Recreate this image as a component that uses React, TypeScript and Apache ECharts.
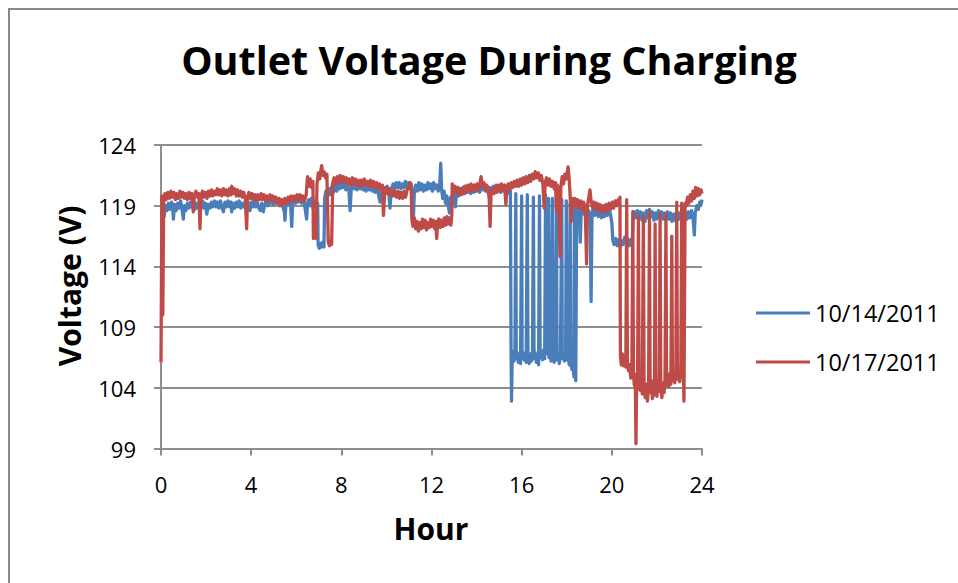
import React, { useEffect, useRef } from "react";
import * as echarts from "echarts";

const TITLE = "Outlet Voltage During Charging";
const X_NAME = "Hour";
const Y_NAME = "Voltage (V)";
const SERIES_NAMES = ["10/14/2011", "10/17/2011"];
const SERIES_COLORS = ["#4A7EBB", "#BE4B48"];
const X_TICKS = [0, 4, 8, 12, 16, 20, 24];
const Y_TICKS = [99, 104, 109, 114, 119, 124];

// 10/14/2011 : [hour, volts]
const blue: [number, number][] = [
  [0.1, 119.3], [0.14, 118.1], [0.2, 119.0], [0.26, 118.6], [0.33, 119.2], [0.4, 118.7], [0.47, 119.3], [0.52, 118.8], [0.55, 117.9], [0.6, 119.1],
  [0.67, 118.6], [0.74, 119.2], [0.8, 118.8], [0.87, 119.4], [0.93, 118.7], [0.99, 117.9], [1.04, 119.0], [1.1, 118.6], [1.17, 119.2], [1.24, 118.8],
  [1.3, 119.3], [1.37, 118.9], [1.44, 119.4], [1.5, 118.7], [1.57, 119.2], [1.64, 118.8], [1.7, 119.3], [1.77, 118.9], [1.84, 119.4], [1.9, 118.8],
  [1.97, 119.2], [2.03, 118.3], [2.1, 119.1], [2.17, 118.8], [2.24, 119.3], [2.3, 118.9], [2.37, 119.4], [2.44, 118.9], [2.5, 119.3], [2.57, 118.8],
  [2.64, 119.4], [2.7, 118.9], [2.77, 118.5], [2.84, 119.3], [2.9, 118.9], [2.97, 119.4], [3.04, 118.9], [3.1, 119.3], [3.14, 118.5], [3.2, 119.2],
  [3.27, 118.8], [3.34, 119.3], [3.4, 118.9], [3.47, 119.4], [3.54, 118.8], [3.6, 119.2], [3.67, 118.9], [3.74, 119.3], [3.8, 118.9], [3.87, 119.2],
  [3.95, 118.6], [4.0, 119.3], [4.07, 118.9], [4.14, 119.4], [4.2, 118.9], [4.27, 119.3], [4.34, 118.8], [4.4, 118.6], [4.47, 119.2], [4.54, 118.5],
  [4.6, 119.1], [4.67, 119.4], [4.74, 119.0], [4.8, 119.6], [4.87, 119.2], [4.94, 119.5], [5.0, 119.1], [5.07, 119.6], [5.14, 119.2], [5.2, 119.5],
  [5.27, 119.0], [5.34, 119.4], [5.4, 119.0], [5.47, 118.5], [5.5, 117.8], [5.54, 119.1], [5.6, 119.5], [5.67, 119.1], [5.74, 119.4], [5.8, 117.3],
  [5.84, 119.2], [5.9, 119.6], [5.97, 119.2], [6.04, 119.7], [6.1, 119.3], [6.17, 119.6], [6.24, 119.2], [6.3, 119.5], [6.37, 119.1], [6.42, 118.4],
  [6.46, 117.9], [6.5, 119.2], [6.56, 119.5], [6.62, 119.0], [6.68, 119.6], [6.75, 118.8], [6.82, 119.4], [6.9, 118.9], [6.95, 119.2], [6.97, 115.8],
  [7.02, 115.5], [7.08, 115.9], [7.13, 115.6], [7.18, 116.0], [7.23, 115.6], [7.26, 119.6], [7.32, 120.2], [7.38, 119.8], [7.45, 120.4], [7.52, 119.9],
  [7.58, 120.6], [7.65, 120.1], [7.72, 120.8], [7.8, 120.2], [7.87, 120.9], [7.94, 120.4], [8.0, 121.0], [8.07, 120.5], [8.14, 120.9], [8.2, 120.3],
  [8.27, 120.8], [8.34, 120.2], [8.39, 118.6], [8.44, 120.4], [8.5, 120.9], [8.57, 120.4], [8.64, 120.8], [8.7, 120.3], [8.77, 120.9], [8.84, 120.4],
  [8.9, 120.8], [8.97, 120.3], [9.04, 120.7], [9.1, 120.2], [9.17, 120.8], [9.24, 120.3], [9.3, 120.7], [9.37, 120.2], [9.44, 120.6], [9.5, 120.1],
  [9.57, 120.6], [9.64, 120.0], [9.72, 119.3], [9.78, 120.4], [9.84, 120.0], [9.9, 120.5], [9.97, 120.1], [10.04, 120.6], [10.1, 120.2], [10.16, 118.8],
  [10.22, 120.4], [10.3, 120.8], [10.37, 120.4], [10.44, 120.9], [10.5, 120.5], [10.57, 120.9], [10.64, 120.4], [10.7, 120.8], [10.77, 120.5], [10.84, 121.0],
  [10.9, 120.5], [10.97, 120.9], [11.04, 120.4], [11.1, 120.8], [11.16, 119.5], [11.2, 118.1], [11.24, 120.2], [11.3, 120.7], [11.37, 120.2], [11.44, 120.9],
  [11.5, 120.3], [11.57, 120.8], [11.64, 120.2], [11.7, 120.7], [11.77, 120.3], [11.84, 120.9], [11.9, 120.4], [11.97, 120.8], [12.04, 120.2], [12.1, 120.9],
  [12.17, 120.4], [12.24, 120.7], [12.3, 120.2], [12.36, 120.6], [12.41, 122.5], [12.45, 120.3], [12.5, 119.6], [12.56, 120.2], [12.62, 119.2], [12.68, 119.8],
  [12.74, 119.0], [12.8, 118.4], [12.85, 119.7], [12.9, 119.1], [12.95, 120.2], [13.0, 120.1], [13.06, 118.9], [13.12, 120.3], [13.2, 119.8], [13.26, 120.4],
  [13.33, 119.9], [13.4, 120.5], [13.47, 120.0], [13.54, 120.6], [13.6, 120.1], [13.67, 120.5], [13.74, 120.0], [13.8, 120.6], [13.87, 120.1], [13.94, 120.7],
  [14.0, 120.2], [14.07, 120.6], [14.14, 120.1], [14.2, 120.8], [14.27, 120.3], [14.34, 120.7], [14.4, 120.2], [14.47, 120.6], [14.54, 120.0], [14.6, 120.5],
  [14.67, 120.0], [14.74, 120.6], [14.8, 120.1], [14.87, 120.7], [14.94, 120.2], [15.0, 120.6], [15.07, 120.1], [15.14, 120.7], [15.2, 120.2], [15.27, 120.6],
  [15.34, 120.1], [15.4, 120.5], [15.46, 120.0], [15.5, 120.2], [15.53, 107.0], [15.55, 102.9], [15.58, 106.5], [15.62, 107.0], [15.66, 106.2], [15.7, 106.8],
  [15.74, 120.0], [15.76, 106.4], [15.8, 106.9], [15.85, 106.1], [15.9, 106.7], [15.95, 106.0], [16.0, 119.8], [16.02, 106.5], [16.06, 106.9], [16.1, 106.3],
  [16.15, 106.8], [16.2, 106.1], [16.25, 119.9], [16.28, 106.6], [16.33, 106.0], [16.38, 106.8], [16.43, 106.2], [16.48, 106.7], [16.52, 119.7], [16.55, 106.4],
  [16.6, 106.9], [16.65, 106.1], [16.7, 106.6], [16.75, 105.9], [16.79, 119.8], [16.82, 106.5], [16.87, 107.0], [16.92, 106.3], [16.97, 107.1], [17.02, 106.4],
  [17.06, 119.9], [17.09, 106.8], [17.12, 114.0], [17.14, 107.2], [17.17, 111.5], [17.19, 119.6], [17.21, 106.5], [17.26, 106.9], [17.3, 106.2], [17.36, 119.6],
  [17.39, 106.7], [17.44, 106.1], [17.49, 106.8], [17.54, 119.5], [17.57, 106.3], [17.62, 106.8], [17.67, 106.0], [17.72, 106.7], [17.78, 119.5], [17.8, 106.4],
  [17.85, 106.9], [17.9, 106.2], [17.95, 106.6], [17.98, 119.4], [18.01, 106.3], [18.06, 106.8], [18.11, 105.9], [18.15, 119.2], [18.18, 106.1], [18.23, 105.5],
  [18.28, 105.9], [18.32, 104.9], [18.34, 119.0], [18.37, 105.2], [18.4, 104.6], [18.44, 118.9], [18.5, 118.2], [18.56, 118.7], [18.6, 116.0], [18.64, 118.4],
  [18.7, 118.9], [18.77, 118.3], [18.84, 118.8], [18.9, 118.1], [18.97, 118.6], [19.04, 118.2], [19.08, 111.1], [19.12, 118.3], [19.18, 118.8], [19.25, 118.2],
  [19.32, 118.7], [19.4, 118.1], [19.47, 118.6], [19.54, 118.0], [19.6, 118.5], [19.67, 118.1], [19.74, 118.6], [19.8, 118.2], [19.87, 118.7], [19.94, 118.3],
  [20.0, 117.6], [20.04, 116.2], [20.1, 115.8], [20.17, 116.3], [20.24, 115.7], [20.3, 116.2], [20.37, 115.6], [20.44, 116.1], [20.5, 115.8], [20.57, 116.4],
  [20.64, 115.9], [20.7, 116.3], [20.77, 115.7], [20.84, 116.2], [20.9, 115.8], [20.95, 117.9], [21.0, 118.5], [21.06, 118.0], [21.13, 118.6], [21.2, 117.9],
  [21.27, 118.5], [21.34, 117.8], [21.4, 118.4], [21.47, 117.7], [21.54, 118.6], [21.6, 118.0], [21.67, 118.7], [21.74, 118.1], [21.8, 118.5], [21.87, 117.8],
  [21.94, 118.4], [22.0, 117.9], [22.07, 118.6], [22.14, 118.0], [22.2, 118.5], [22.27, 117.9], [22.34, 118.4], [22.4, 117.8], [22.47, 118.5], [22.54, 117.9],
  [22.6, 118.4], [22.67, 117.7], [22.74, 118.3], [22.8, 117.8], [22.87, 118.5], [22.94, 117.9], [23.0, 118.4], [23.07, 117.8], [23.14, 118.3], [23.2, 117.7],
  [23.27, 118.4], [23.34, 117.9], [23.4, 118.5], [23.47, 118.0], [23.54, 118.6], [23.6, 118.1], [23.66, 116.6], [23.7, 118.4], [23.77, 119.0], [23.84, 118.7],
  [23.9, 119.3], [23.96, 119.1], [24.0, 119.5],
];

// 10/17/2011 : [hour, volts]
const red: [number, number][] = [
  [0.0, 106.1], [0.04, 119.8], [0.08, 110.0], [0.12, 119.6], [0.17, 120.0], [0.23, 119.5], [0.3, 120.1], [0.37, 119.6], [0.44, 120.2], [0.5, 119.7],
  [0.57, 120.1], [0.64, 119.5], [0.7, 120.0], [0.77, 119.6], [0.84, 120.2], [0.9, 119.7], [0.97, 120.1], [1.04, 119.6], [1.1, 120.0], [1.17, 119.5],
  [1.24, 120.1], [1.3, 119.6], [1.37, 120.0], [1.43, 118.5], [1.48, 119.8], [1.55, 120.2], [1.62, 119.7], [1.68, 120.0], [1.73, 117.1], [1.77, 119.7],
  [1.84, 120.2], [1.9, 119.7], [1.97, 120.1], [2.04, 119.6], [2.1, 120.2], [2.17, 119.8], [2.24, 120.3], [2.3, 119.8], [2.37, 120.2], [2.44, 119.9],
  [2.5, 120.4], [2.57, 119.9], [2.64, 120.3], [2.7, 119.8], [2.77, 120.4], [2.84, 119.9], [2.9, 120.3], [2.97, 119.8], [3.04, 120.4], [3.1, 119.9],
  [3.14, 120.6], [3.2, 120.0], [3.27, 120.4], [3.34, 119.8], [3.4, 120.3], [3.47, 119.8], [3.54, 120.2], [3.6, 119.7], [3.67, 120.1], [3.74, 119.6],
  [3.8, 117.1], [3.84, 119.7], [3.9, 120.1], [3.97, 119.6], [4.04, 120.0], [4.1, 119.5], [4.17, 119.9], [4.24, 119.4], [4.3, 119.9], [4.37, 119.5],
  [4.44, 120.0], [4.5, 119.5], [4.57, 119.9], [4.64, 119.4], [4.7, 119.8], [4.77, 119.4], [4.84, 119.9], [4.9, 119.5], [4.97, 119.8], [5.04, 119.3],
  [5.1, 119.7], [5.17, 119.2], [5.24, 119.6], [5.3, 119.0], [5.37, 119.5], [5.44, 119.1], [5.5, 119.6], [5.57, 119.2], [5.64, 119.7], [5.7, 119.3],
  [5.77, 119.8], [5.84, 119.4], [5.9, 119.8], [5.97, 119.4], [6.04, 119.9], [6.1, 119.5], [6.17, 119.9], [6.24, 119.4], [6.3, 119.8], [6.37, 119.4],
  [6.44, 119.9], [6.5, 121.4], [6.56, 120.6], [6.62, 121.2], [6.68, 120.5], [6.74, 121.0], [6.76, 116.3], [6.82, 116.6], [6.88, 116.3], [6.92, 120.8],
  [6.98, 121.7], [7.04, 121.2], [7.09, 121.9], [7.13, 122.3], [7.18, 121.5], [7.24, 121.8], [7.3, 121.3], [7.36, 121.6], [7.42, 116.0], [7.47, 115.7],
  [7.52, 116.1], [7.57, 115.8], [7.62, 120.9], [7.68, 121.3], [7.75, 120.8], [7.82, 121.4], [7.88, 120.9], [7.95, 121.5], [8.02, 121.0], [8.09, 121.4],
  [8.16, 120.9], [8.22, 121.3], [8.29, 120.8], [8.36, 121.2], [8.42, 120.7], [8.49, 121.3], [8.56, 120.8], [8.62, 121.2], [8.69, 120.7], [8.76, 121.1],
  [8.82, 120.6], [8.89, 121.1], [8.96, 120.7], [9.02, 121.2], [9.09, 120.7], [9.16, 121.0], [9.22, 120.6], [9.29, 121.1], [9.36, 120.6], [9.42, 121.0],
  [9.49, 120.5], [9.56, 120.9], [9.62, 120.4], [9.69, 120.8], [9.76, 120.3], [9.82, 120.7], [9.87, 118.2], [9.92, 120.1], [9.98, 120.5], [10.05, 120.0],
  [10.12, 120.4], [10.18, 119.8], [10.25, 120.3], [10.32, 119.8], [10.38, 120.2], [10.45, 119.7], [10.52, 120.2], [10.58, 119.6], [10.65, 120.1], [10.72, 119.6],
  [10.78, 120.2], [10.85, 119.7], [10.92, 120.3], [10.98, 120.6], [11.05, 120.9], [11.1, 120.4], [11.13, 117.8], [11.18, 117.3], [11.24, 118.0], [11.3, 117.1],
  [11.36, 117.7], [11.42, 116.9], [11.48, 117.6], [11.54, 117.1], [11.6, 117.9], [11.66, 117.2], [11.72, 117.8], [11.78, 117.0], [11.84, 117.6], [11.9, 117.2],
  [11.96, 117.9], [12.02, 117.3], [12.08, 117.8], [12.14, 117.1], [12.2, 117.7], [12.23, 116.3], [12.27, 117.5], [12.33, 117.9], [12.39, 117.2], [12.45, 117.8],
  [12.51, 117.3], [12.57, 118.0], [12.63, 117.4], [12.69, 118.1], [12.75, 117.5], [12.81, 118.0], [12.86, 117.4], [12.9, 118.2], [12.92, 120.8], [12.98, 120.2],
  [13.05, 120.6], [13.12, 120.0], [13.19, 120.5], [13.26, 119.9], [13.33, 120.4], [13.4, 120.0], [13.47, 120.6], [13.54, 120.1], [13.61, 120.7], [13.68, 120.2],
  [13.75, 120.8], [13.82, 120.3], [13.89, 120.7], [13.96, 120.2], [14.03, 120.8], [14.1, 120.4], [14.16, 121.0], [14.2, 121.4], [14.25, 120.6], [14.32, 120.9],
  [14.38, 120.3], [14.45, 120.7], [14.52, 120.1], [14.56, 119.6], [14.6, 117.3], [14.64, 119.8], [14.7, 120.4], [14.77, 120.0], [14.84, 120.6], [14.9, 120.1],
  [14.97, 120.7], [15.04, 120.2], [15.1, 120.8], [15.17, 120.3], [15.24, 120.7], [15.3, 119.1], [15.34, 120.4], [15.4, 120.8], [15.47, 120.3], [15.54, 120.9],
  [15.6, 120.5], [15.67, 121.0], [15.74, 120.6], [15.8, 121.1], [15.87, 120.6], [15.94, 121.2], [16.0, 120.7], [16.07, 121.3], [16.14, 120.8], [16.2, 121.4],
  [16.27, 120.9], [16.34, 121.5], [16.4, 121.0], [16.47, 121.6], [16.54, 121.2], [16.6, 121.8], [16.67, 121.3], [16.74, 121.7], [16.8, 121.1], [16.87, 121.5],
  [16.94, 120.8], [17.0, 118.8], [17.04, 120.9], [17.1, 121.3], [17.17, 120.7], [17.24, 121.2], [17.3, 120.6], [17.37, 121.0], [17.44, 120.4], [17.5, 120.9],
  [17.54, 118.6], [17.58, 120.7], [17.64, 120.2], [17.7, 114.8], [17.74, 120.6], [17.8, 121.4], [17.86, 120.8], [17.92, 121.6], [17.98, 121.2], [18.03, 121.8],
  [18.06, 122.2], [18.1, 121.4], [18.14, 120.2], [18.2, 117.7], [18.24, 119.6], [18.3, 119.0], [18.36, 119.6], [18.42, 118.9], [18.48, 119.5], [18.55, 118.8],
  [18.62, 119.4], [18.68, 118.7], [18.75, 119.3], [18.82, 118.8], [18.88, 114.2], [18.92, 119.0], [18.97, 119.6], [19.03, 120.3], [19.08, 119.4], [19.15, 118.8],
  [19.22, 119.3], [19.28, 118.7], [19.35, 119.2], [19.42, 118.6], [19.48, 119.1], [19.55, 118.5], [19.62, 119.0], [19.68, 118.5], [19.75, 119.1], [19.82, 118.6],
  [19.88, 119.2], [19.95, 118.7], [20.02, 119.3], [20.08, 118.8], [20.15, 119.4], [20.22, 119.0], [20.28, 119.5], [20.33, 119.1], [20.36, 119.7], [20.38, 106.7],
  [20.42, 105.9], [20.47, 106.8], [20.52, 105.8], [20.57, 106.5], [20.62, 105.7], [20.66, 119.5], [20.69, 106.2], [20.74, 105.4], [20.79, 105.9], [20.84, 104.8],
  [20.89, 105.5], [20.93, 118.5], [20.96, 105.0], [21.0, 104.2], [21.04, 105.1], [21.07, 99.4], [21.1, 104.6], [21.14, 103.9], [21.18, 118.1], [21.21, 104.8],
  [21.25, 103.8], [21.3, 104.7], [21.35, 103.5], [21.4, 118.1], [21.43, 104.4], [21.48, 103.2], [21.53, 104.3], [21.58, 102.9], [21.63, 104.0], [21.67, 118.5],
  [21.7, 103.6], [21.75, 104.6], [21.8, 103.1], [21.85, 104.2], [21.89, 103.4], [21.92, 117.5], [21.95, 104.5], [22.0, 103.3], [22.05, 104.6], [22.1, 103.7],
  [22.14, 118.3], [22.17, 104.1], [22.22, 103.2], [22.27, 104.4], [22.32, 103.6], [22.36, 104.8], [22.4, 118.3], [22.43, 104.2], [22.48, 105.0], [22.53, 104.1],
  [22.58, 105.2], [22.62, 104.3], [22.66, 116.5], [22.69, 104.6], [22.74, 105.3], [22.79, 104.4], [22.84, 105.5], [22.88, 119.3], [22.91, 104.7], [22.96, 105.6],
  [23.01, 104.5], [23.06, 105.4], [23.1, 119.2], [23.13, 104.9], [23.17, 105.8], [23.2, 102.9], [23.25, 119.2], [23.3, 119.0], [23.36, 119.7], [23.42, 119.2],
  [23.48, 119.9], [23.54, 119.4], [23.6, 120.2], [23.66, 119.6], [23.72, 120.5], [23.78, 119.8], [23.84, 120.4], [23.9, 119.9], [23.96, 120.3], [24.0, 120.0],
];

const FONT = "'Open Sans', 'Noto Sans', sans-serif";
const GRID_GRAY = "#8E8E8E";

export default function App() {
  const ref = useRef<HTMLDivElement>(null);

  useEffect(() => {
    if (!ref.current) return;
    const chart = echarts.init(ref.current, undefined, { renderer: "svg" });
    const yBase = Y_TICKS[0];
    const yStep = Y_TICKS[1] - Y_TICKS[0];
    const xStep = X_TICKS[1] - X_TICKS[0];
    const toSeries = (pts: [number, number][]) => pts.map(([h, v]) => [h, v - yBase]);

    chart.setOption({
      animation: false,
      backgroundColor: "#ffffff",
      grid: { left: 161, top: 145, width: 541, height: 303.5, containLabel: false },
      xAxis: {
        type: "value",
        min: X_TICKS[0],
        max: X_TICKS[X_TICKS.length - 1],
        interval: xStep,
        axisLine: { show: true, onZero: false, lineStyle: { color: GRID_GRAY, width: 2 } },
        axisTick: { show: true, length: 7, lineStyle: { color: GRID_GRAY, width: 2 } },
        axisLabel: { color: "#000", fontFamily: FONT, fontSize: 22, margin: 24 },
        splitLine: { show: false },
      },
      yAxis: {
        type: "value",
        min: 0,
        max: Y_TICKS[Y_TICKS.length - 1] - yBase,
        interval: yStep,
        axisLine: { show: true, lineStyle: { color: GRID_GRAY, width: 2 } },
        axisTick: { show: true, length: 7, lineStyle: { color: GRID_GRAY, width: 2 } },
        axisLabel: {
          color: "#000",
          fontFamily: FONT,
          fontSize: 22,
          margin: 25,
          formatter: (val: number) => String(Math.round(val + yBase)),
        },
        splitLine: { show: true, lineStyle: { color: GRID_GRAY, width: 2 } },
      },
      legend: {
        orient: "vertical",
        left: 751,
        top: 296,
        itemWidth: 54,
        itemHeight: 3,
        itemGap: 25,
        icon: "rect",
        selectedMode: false,
        textStyle: { color: "#000", fontFamily: FONT, fontSize: 23.5 },
        data: SERIES_NAMES,
      },
      graphic: [
        {
          type: "rect",
          silent: true,
          shape: { x: 9, y: 9, width: 1200, height: 1200 },
          style: { fill: "none", stroke: "#898989", lineWidth: 2 },
        },
        {
          type: "text",
          x: 489,
          y: 60,
          silent: true,
          style: {
            text: TITLE,
            fill: "#000",
            font: `bold 39.5px ${FONT}`,
            align: "center",
            verticalAlign: "middle",
            textAlign: "center",
            textVerticalAlign: "middle",
          },
        },
        {
          type: "text",
          x: 431,
          y: 528,
          silent: true,
          style: {
            text: X_NAME,
            fill: "#000",
            font: `bold 30px ${FONT}`,
            align: "center",
            verticalAlign: "middle",
            textAlign: "center",
            textVerticalAlign: "middle",
          },
        },
        {
          type: "text",
          x: 69,
          y: 286,
          rotation: Math.PI / 2,
          silent: true,
          style: {
            text: Y_NAME,
            fill: "#000",
            font: `bold 30px ${FONT}`,
            align: "center",
            verticalAlign: "middle",
            textAlign: "center",
            textVerticalAlign: "middle",
          },
        },
      ],
      series: [
        {
          name: SERIES_NAMES[0],
          type: "line",
          data: toSeries(blue),
          showSymbol: false,
          symbol: "none",
          silent: true,
          color: SERIES_COLORS[0],
          lineStyle: { color: SERIES_COLORS[0], width: 3.3, join: "round" },
          itemStyle: { color: SERIES_COLORS[0] },
          z: 2,
        },
        {
          name: SERIES_NAMES[1],
          type: "line",
          data: toSeries(red),
          showSymbol: false,
          symbol: "none",
          silent: true,
          color: SERIES_COLORS[1],
          lineStyle: { color: SERIES_COLORS[1], width: 3.3, join: "round" },
          itemStyle: { color: SERIES_COLORS[1] },
          z: 3,
        },
      ],
    });

    return () => chart.dispose();
  }, []);

  return (
    <div
      ref={ref}
      style={{ position: "fixed", left: 0, top: 0, width: 958, height: 583, background: "#fff" }}
    />
  );
}
